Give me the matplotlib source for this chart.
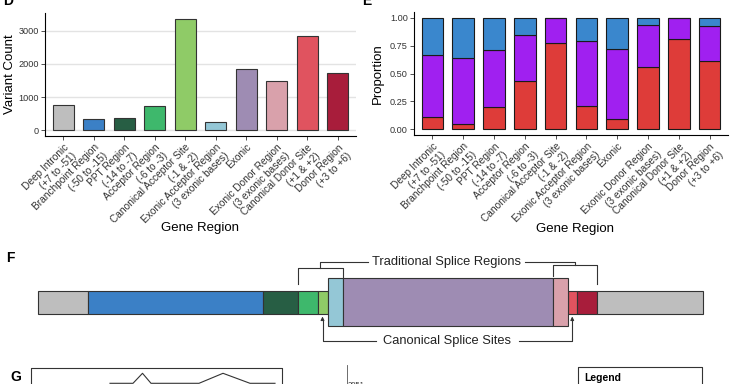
import matplotlib.pyplot as plt
import numpy as np

plt.rcParams['font.family'] = ['Liberation Sans', 'DejaVu Sans']

# gene regions (panel D / E)
regions = ["Deep Intronic\n(+7 to -51)", "Branchpoint Region\n(-50 to -15)",
           "PPT Region\n(-14 to -7)", "Acceptor Region\n(-6 to -3)",
           "Canonical Acceptor Site\n(-1 & -2)", "Exonic Acceptor Region\n(3 exonic bases)",
           "Exonic", "Exonic Donor Region\n(3 exonic bases)",
           "Canonical Donor Site\n(+1 & +2)", "Donor Region\n(+3 to +6)"]
variant_counts = [765, 340, 385, 735, 3361, 250, 1845, 1475, 2830, 1740]
region_colors = ["#BEBEBE", "#3B80C6", "#275E44", "#3EB86C", "#8FCB67",
                 "#94C7D6", "#9E8CB3", "#D9A1AB", "#E0535F", "#A81D3B"]

# proportions per region (bottom -> top)
prop_red = [0.113, 0.051, 0.196, 0.435, 0.777, 0.211, 0.089, 0.5625, 0.807, 0.616]
prop_purple = [0.551, 0.592, 0.518, 0.413, 0.223, 0.584, 0.631, 0.375, 0.193, 0.313]
prop_blue = [0.336, 0.357, 0.286, 0.152, 0.0, 0.205, 0.280, 0.0625, 0.0, 0.071]
stack_colors = ["#DE3C39", "#A020F0", "#3A87CD"]

# gene diagram (panel F): segment lengths, left to right
seg_lengths = [50.1, 175.6, 34.3, 20, 10, 15, 210, 15, 9.5, 20, 105.6]
seg_colors = ["#BEBEBE"] + region_colors[1:] + ["#BEBEBE"]
exon_segs = [5, 6, 7]

# panel G (cut off at bottom)
g_line_x = [110, 133, 142.5, 151, 199, 223, 250, 275]
g_line_y = [0, 0, 1, 0, 0, 1, 0, 0]

W, H = 734, 384
fig = plt.figure(figsize=(W / 100, H / 100), dpi=100)


def box(l, t, r, b):
    return [l / W, 1 - b / H, (r - l) / W, (b - t) / H]


def style(ax):
    for s in ["top", "right"]:
        ax.spines[s].set_visible(False)
    for s in ["left", "bottom"]:
        ax.spines[s].set_linewidth(0.8)
    ax.tick_params(length=3, width=0.6, color="#333333", labelcolor="#333333")
    ax.tick_params(axis="y", labelsize=6.6, pad=1.5)
    ax.tick_params(axis="x", labelsize=7.3, pad=1.5)


x = np.arange(1, len(regions) + 1)

# ---- D
axd = fig.add_axes(box(45, 13, 356, 136))
axd.bar(x, variant_counts, width=0.7, color=region_colors, edgecolor="#333333",
        linewidth=0.8, zorder=3)
axd.set_xlim(0.4, 10.6)
top = max(variant_counts)
axd.set_ylim(-0.05 * top, 1.05 * top)
axd.set_yticks([0, 1000, 2000, 3000])
axd.yaxis.grid(True, color="#E3E3E3", linewidth=1.0, zorder=0)
axd.set_xticks(x)
axd.set_xticklabels(regions, rotation=45, ha="right", va="top",
                    rotation_mode="anchor", multialignment="right")
style(axd)
axd.set_ylabel("Variant Count", fontsize=9.5)
axd.set_xlabel("Gene Region", fontsize=9.5)
axd.xaxis.set_label_coords((200 - 45) / 311, -(222 - 136) / 123)
axd.yaxis.set_label_coords((16 - 45) / 311, 0.5)

# ---- E
axe = fig.add_axes(box(414, 12, 728, 135))
bottom = np.zeros(len(regions))
for vals, c in zip([prop_red, prop_purple, prop_blue], stack_colors):
    axe.bar(x, vals, bottom=bottom, width=0.7, color=c, edgecolor="#1a1a1a",
            linewidth=0.8, zorder=3)
    bottom += np.array(vals)
axe.set_xlim(0.4, 10.6)
axe.set_ylim(-0.05, 1.05)
axe.set_yticks([0, 0.25, 0.5, 0.75, 1.0])
axe.set_yticklabels(["0.00", "0.25", "0.50", "0.75", "1.00"])
axe.set_xticks(x)
axe.set_xticklabels(regions, rotation=45, ha="right", va="top",
                    rotation_mode="anchor", multialignment="right")
style(axe)
axe.set_ylabel("Proportion", fontsize=9.5)
axe.set_xlabel("Gene Region", fontsize=9.5)
axe.xaxis.set_label_coords((575 - 414) / 314, -(223 - 135) / 123)
axe.yaxis.set_label_coords((384 - 414) / 314, 0.5)

# ---- panel letters
fig.text(3 / W, 1 - 1 / H, "D", fontsize=10, fontweight="bold", va="center")
fig.text(362 / W, 1 - 1 / H, "E", fontsize=10, fontweight="bold", va="center")
fig.text(6 / W, 1 - 258 / H, "F", fontsize=10, fontweight="bold", va="center")
fig.text(10 / W, 1 - 377 / H, "G", fontsize=10, fontweight="bold", va="center")

# ---- F gene diagram
axf = fig.add_axes([0, 0, 1, 1])
axf.set_xlim(0, W)
axf.set_ylim(H, 0)
axf.axis("off")
lefts = 37.5 + np.concatenate([[0], np.cumsum(seg_lengths)[:-1]])
for i, (l, w, c) in enumerate(zip(lefts, seg_lengths, seg_colors)):
    if i in exon_segs:
        continue
    axf.bar(l, 23.3, width=w, bottom=290.7, align="edge", color=c,
            edgecolor="#333333", linewidth=0.8)
for i in exon_segs:
    axf.bar(lefts[i], 47.7, width=seg_lengths[i], bottom=278.3, align="edge",
            color=seg_colors[i], edgecolor="#333333", linewidth=0.8)

lc = dict(color="#333333", linewidth=0.8)
acc_l, acc_r = lefts[3], lefts[6]
don_l, don_r = lefts[7], lefts[10]
# traditional splice regions brackets
axf.plot([acc_l, acc_l, acc_r, acc_r], [284, 267.5, 267.5, 277], **lc)
axf.plot([don_l, don_l, don_r, don_r], [276, 265, 265, 283.5], **lc)
mid_a = (acc_l + acc_r) / 2
mid_d = (don_l + don_r) / 2
axf.plot([mid_a, mid_a, 368], [267.5, 261.7, 261.7], **lc)
axf.plot([525, mid_d, mid_d], [261.7, 261.7, 265], **lc)
axf.text(446.7, 261.7, "Traditional Splice Regions", fontsize=9.3,
         ha="center", va="center", color="#222222")
# canonical splice sites arrows
ca = lefts[4] + seg_lengths[4] / 2
cd = lefts[8] + seg_lengths[8] / 2
axf.plot([376, ca, ca], [340.7, 340.7, 320], **lc)
axf.plot([519, cd, cd], [340.7, 340.7, 320], **lc)
for xx in [ca, cd]:
    axf.annotate("", xy=(xx, 316.5), xytext=(xx, 322),
                 arrowprops=dict(arrowstyle="-|>", color="#333333", lw=0.8,
                                 mutation_scale=5))
axf.text(446.7, 340.7, "Canonical Splice Sites", fontsize=9.3,
         ha="center", va="center", color="#222222")

# ---- G (partially visible)
axf.plot([30.7, 30.7, 282.3, 282.3], [390, 367.7, 367.7, 390], color="#333333", linewidth=0.8)
axf.plot(g_line_x, 383.3 - 10 * np.array(g_line_y), color="#333333", linewidth=0.8)
axf.plot([346.7, 346.7], [365, 390], color="#555555", linewidth=0.6)
axf.text(348, 385.5, "3051", fontsize=5.5, ha="left", va="center", color="#333333")
axf.plot([578, 578, 701.7, 701.7], [390, 366.7, 366.7, 390], color="#333333", linewidth=0.8)
axf.text(584, 378, "Legend", fontsize=7.5, fontweight="bold", ha="left", va="center")

fig.savefig("out.png", dpi=100)
